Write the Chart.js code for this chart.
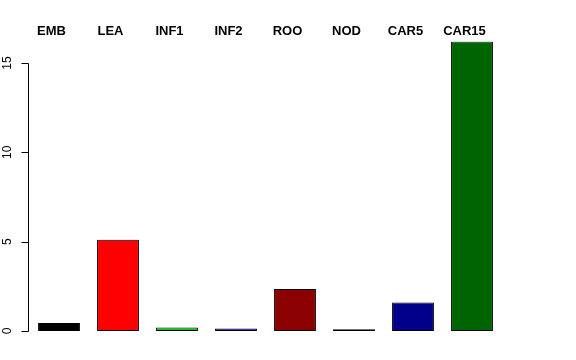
<!DOCTYPE html>
<html>
<head>
<meta charset="utf-8">
<script src="https://cdn.jsdelivr.net/npm/chart.js@4"></script>
<style>
  html, body { margin: 0; padding: 0; background: #fff; }
  #wrap { width: 576px; height: 360px; }
</style>
</head>
<body>
<div id="wrap"><canvas id="myChart"></canvas></div>
<script>
// Bar data
let categories = ["EMB", "LEA", "INF1", "INF2", "ROO", "NOD", "CAR5", "CAR15"];
let values = [0.45, 5.11, 0.2, 0.14, 2.35, 0.1, 1.6, 16.2];
let barColors = ["#000000", "#FF0000", "#00CD00", "#0000CD", "#8B0000", "#551A8B", "#00008B", "#006400"];
let yTicks = [0, 5, 10, 15];

// R style left axis: line only from first to last tick, rotated labels
const rAxis = {
  id: "rAxis",
  afterDraw(chart) {
    const ctx = chart.ctx;
    const y = chart.scales.y;
    const x0 = 28;
    ctx.save();
    ctx.strokeStyle = "#000";
    ctx.lineWidth = 1;
    ctx.beginPath();
    ctx.moveTo(x0 + 0.5, Math.round(y.getPixelForValue(yTicks[0])) + 0.5);
    ctx.lineTo(x0 + 0.5, Math.round(y.getPixelForValue(yTicks[yTicks.length - 1])) + 0.5);
    yTicks.forEach(t => {
      let py = Math.round(y.getPixelForValue(t)) + 0.5;
      ctx.moveTo(x0 + 0.5, py);
      ctx.lineTo(x0 - 6.5, py);
    });
    ctx.stroke();
    ctx.fillStyle = "#000";
    ctx.font = "12px 'Liberation Sans', Arial, sans-serif";
    ctx.textAlign = "center";
    ctx.textBaseline = "middle";
    yTicks.forEach(t => {
      ctx.save();
      ctx.translate(7.5, y.getPixelForValue(t));
      ctx.rotate(-Math.PI / 2);
      ctx.fillText(String(t), 0, 0);
      ctx.restore();
    });
    ctx.restore();
  }
};

new Chart("myChart", {
  type: "bar",
  data: {
    labels: categories,
    datasets: [{
      data: values,
      backgroundColor: barColors,
      borderColor: "#000",
      borderWidth: 1,
      borderSkipped: false,
      barPercentage: 0.71,
      categoryPercentage: 1.0
    }]
  },
  options: {
    responsive: true,
    maintainAspectRatio: false,
    animation: false,
    layout: { padding: { left: 29.5, right: 74.5, top: 22, bottom: 29 } },
    plugins: { legend: { display: false }, tooltip: { enabled: false } },
    scales: {
      x: {
        position: "top",
        grid: { display: false, drawTicks: false },
        border: { display: false },
        ticks: {
          color: "#000",
          font: { family: "'Liberation Sans', Arial, sans-serif", size: 13, weight: "bold" },
          padding: 2,
          labelOffset: -7.5,
          maxRotation: 0
        }
      },
      y: {
        display: false,
        min: 0,
        max: 16.2
      }
    }
  },
  plugins: [rAxis]
});
</script>
</body>
</html>
